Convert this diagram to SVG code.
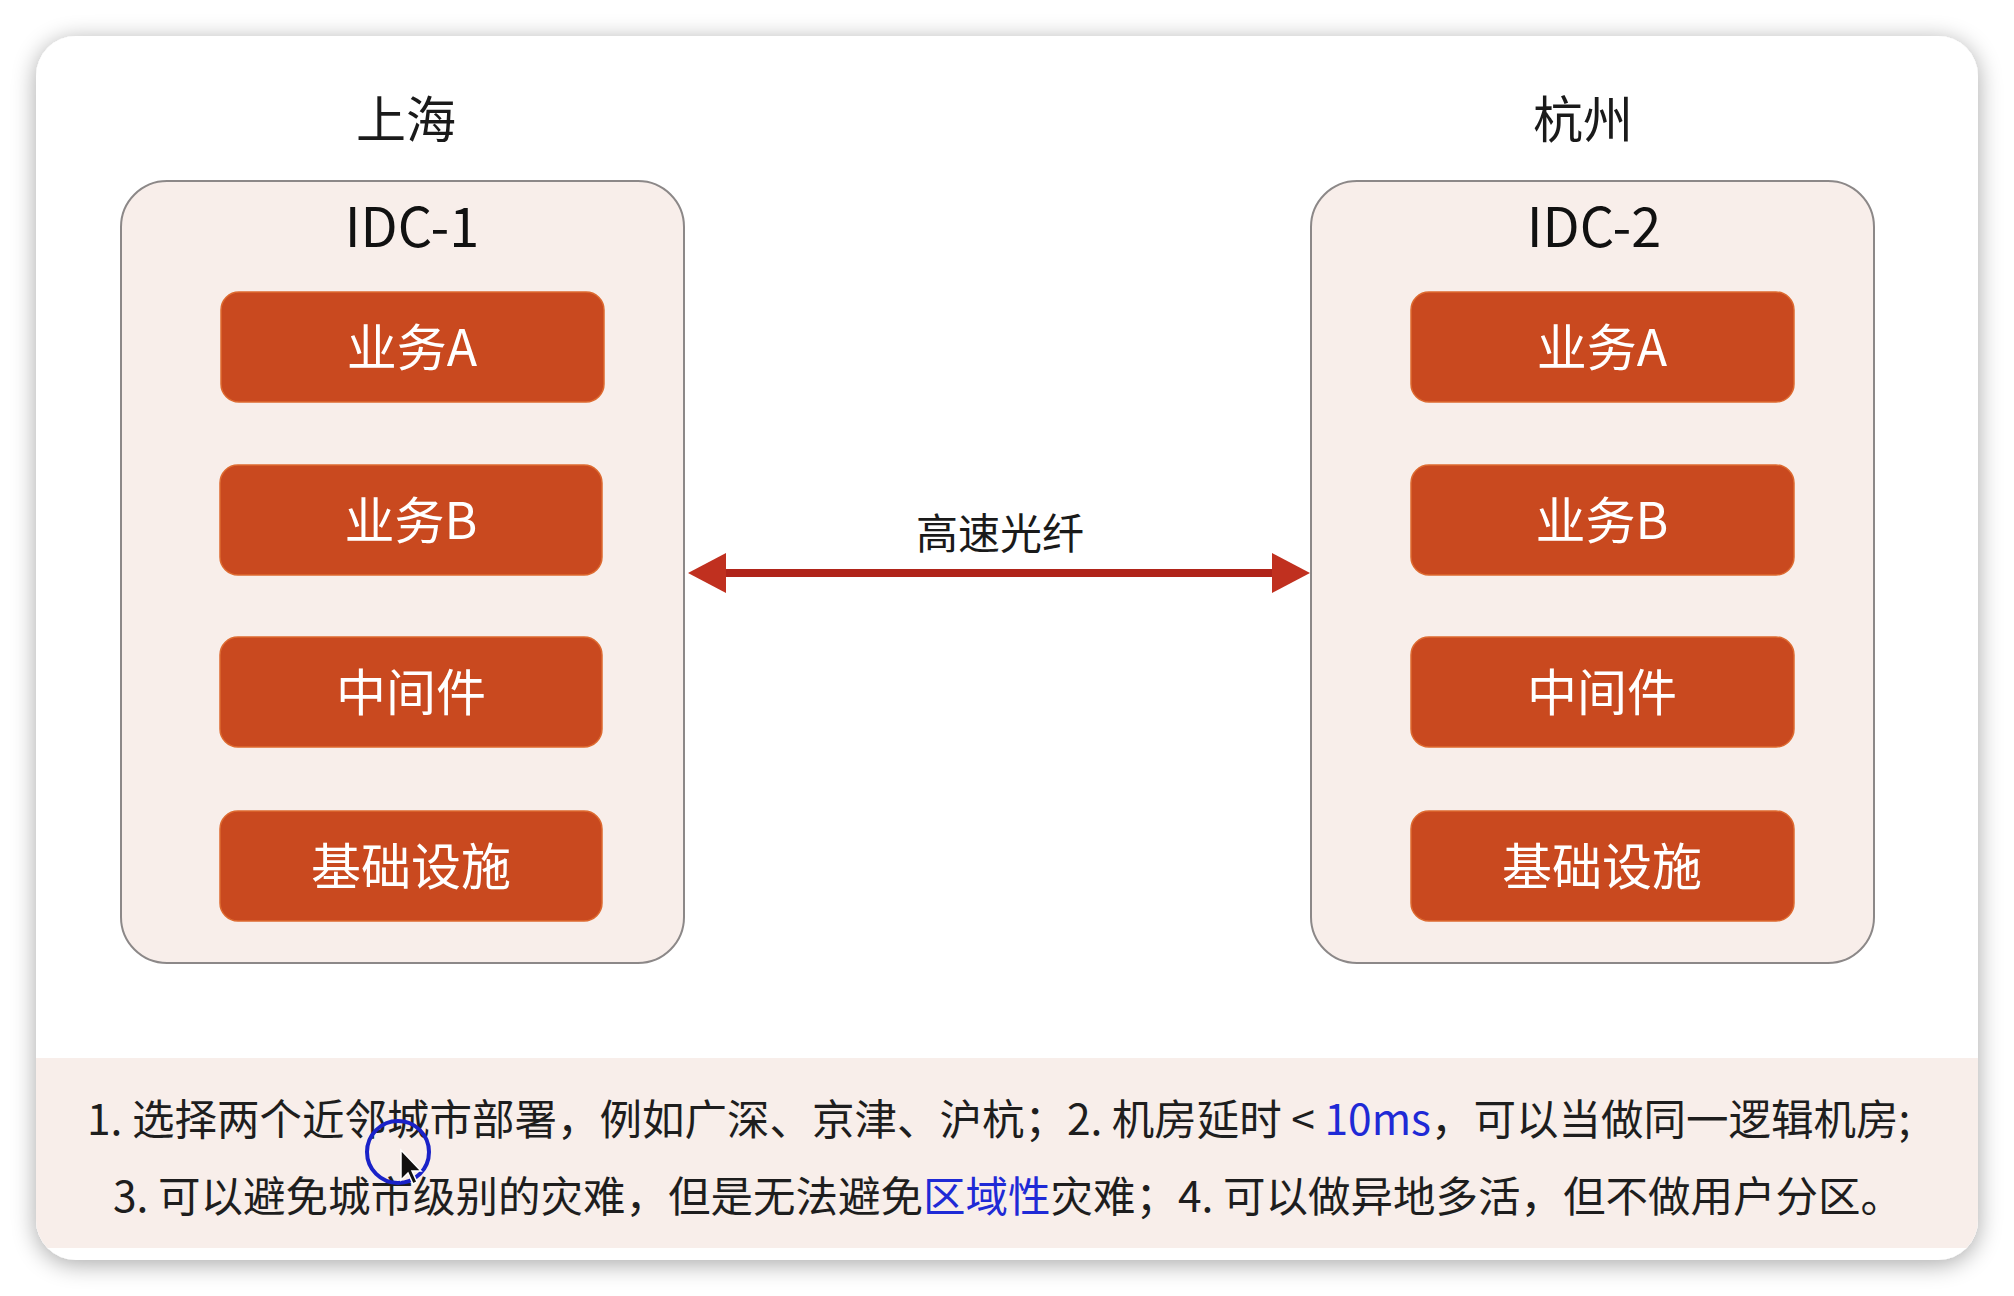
<svg xmlns="http://www.w3.org/2000/svg" width="2014" height="1296" viewBox="0 0 2014 1296">
  <defs>
    <style>
      .cjk { font-family: "Noto Sans CJK SC", "Noto Sans", sans-serif; }
      .title { font-size: 50px; fill: #1a1a1a; text-anchor: middle; }
      .idc { font-size: 54px; fill: #111; text-anchor: middle; }
      .idcbox { fill: #f8eeea; stroke: #8c8888; stroke-width: 2; }
      .svc { fill: #c9491f; stroke: #dd6a30; stroke-width: 1.5; }
      .svctext { font-size: 50px; fill: #ffffff; text-anchor: middle; }
      .note { font-size: 42.5px; fill: #1e1e1e; }
      .blue { fill: #1f2ad6; }
      .link { stroke: #b0241a; stroke-width: 8; fill: none; }
    </style>
    <filter id="shadow" x="-5%" y="-5%" width="110%" height="115%">
      <feGaussianBlur in="SourceAlpha" stdDeviation="12"/>
      <feOffset dx="0" dy="4" result="b"/>
      <feComponentTransfer><feFuncA type="linear" slope="0.35"/></feComponentTransfer>
      <feMerge><feMergeNode/><feMergeNode in="SourceGraphic"/></feMerge>
    </filter>
    <clipPath id="cardClip">
      <rect x="36" y="36" width="1942" height="1224" rx="40" ry="40"/>
    </clipPath>
    <marker id="head" markerUnits="userSpaceOnUse" markerWidth="40" markerHeight="42" refX="26" refY="20" orient="auto-start-reverse">
      <path d="M0,0 L38,20 L0,40 Z" fill="#c0301f"/>
    </marker>
  </defs>

  <rect x="0" y="0" width="2014" height="1296" fill="#ffffff"/>
  <rect x="36" y="36" width="1942" height="1224" rx="40" ry="40" fill="#ffffff" filter="url(#shadow)"/>
  <rect x="36" y="1058" width="1942" height="190" fill="#f8eeea" clip-path="url(#cardClip)"/>

  <text class="cjk title" x="406" y="138">上海</text>
  <text class="cjk title" x="1583" y="138">杭州</text>

  <g id="idc1">
    <rect class="idcbox" x="121" y="181" width="563" height="782" rx="46" ry="46"/>
    <text class="cjk idc" x="412" y="247">IDC-1</text>
  </g>
  <g id="idc1-svcA">
    <rect class="svc" x="221" y="292" width="383" height="110" rx="18" ry="18"/>
    <text class="cjk svctext" x="412" y="366">业务A</text>
  </g>
  <g id="idc1-svcB">
    <rect class="svc" x="220" y="465" width="382" height="110" rx="18" ry="18"/>
    <text class="cjk svctext" x="411" y="539">业务B</text>
  </g>
  <g id="idc1-mw">
    <rect class="svc" x="220" y="637" width="382" height="110" rx="18" ry="18"/>
    <text class="cjk svctext" x="411" y="711">中间件</text>
  </g>
  <g id="idc1-infra">
    <rect class="svc" x="220" y="811" width="382" height="110" rx="18" ry="18"/>
    <text class="cjk svctext" x="411" y="885">基础设施</text>
  </g>

  <g id="idc2">
    <rect class="idcbox" x="1311" y="181" width="563" height="782" rx="46" ry="46"/>
    <text class="cjk idc" x="1594" y="247">IDC-2</text>
  </g>
  <g id="idc2-svcA">
    <rect class="svc" x="1411" y="292" width="383" height="110" rx="18" ry="18"/>
    <text class="cjk svctext" x="1602" y="366">业务A</text>
  </g>
  <g id="idc2-svcB">
    <rect class="svc" x="1411" y="465" width="383" height="110" rx="18" ry="18"/>
    <text class="cjk svctext" x="1602" y="539">业务B</text>
  </g>
  <g id="idc2-mw">
    <rect class="svc" x="1411" y="637" width="383" height="110" rx="18" ry="18"/>
    <text class="cjk svctext" x="1602" y="711">中间件</text>
  </g>
  <g id="idc2-infra">
    <rect class="svc" x="1411" y="811" width="383" height="110" rx="18" ry="18"/>
    <text class="cjk svctext" x="1602" y="885">基础设施</text>
  </g>

  <g id="connectors">
    <line class="link" x1="700" y1="573" x2="1298" y2="573" marker-start="url(#head)" marker-end="url(#head)"/>
    <text class="cjk" x="1000" y="549" font-size="42" fill="#1a1a1a" text-anchor="middle">高速光纤</text>
  </g>

  <g id="notes">
    <text class="cjk note" x="87" y="1135">1. 选择两个近邻城市部署，例如广深、京津、沪杭；2. 机房延时 &lt; <tspan class="blue">10ms</tspan>，可以当做同一逻辑机房;</text>
    <text class="cjk note" x="113" y="1212">3. 可以避免城市级别的灾难，但是无法避免<tspan class="blue">区域性</tspan>灾难；4. 可以做异地多活，但不做用户分区。</text>
  </g>

  <g id="cursor">
    <circle cx="398" cy="1152" r="31" fill="none" stroke="#1a22c8" stroke-width="4"/>
    <path d="M401,1150 L401,1180 L408,1173 L413,1184 L417,1182 L412,1171 L421,1171 Z" fill="#111" stroke="#fff" stroke-width="1.5"/>
  </g>
</svg>
